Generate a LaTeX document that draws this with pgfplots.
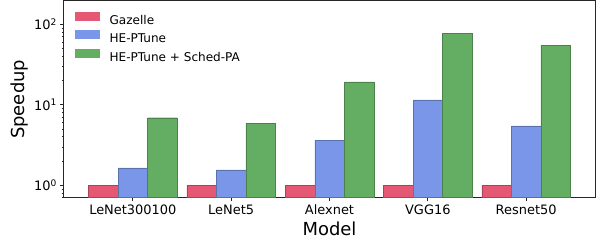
\documentclass[border=0pt]{standalone}
\usepackage{fontspec}
\setmainfont{DejaVu Sans}
\usepackage{pgfplots}
\pgfplotsset{compat=1.18}
\definecolor{cred}{RGB}{228,88,115}
\definecolor{cblue}{RGB}{122,150,232}
\definecolor{cgreen}{RGB}{99,174,98}
\pgfplotsset{mylegend/.style={legend image code/.code={\fill[#1] (0bp,0.3bp) rectangle (24bp,8.3bp);}}}
\begin{document}
\begin{tikzpicture}
\begin{axis}[
  scale only axis, width=531bp, height=196.7bp,
  ymode=log, log origin=infty,
  ymin=0.7, ymax=195,
  xmin=-0.7, xmax=4.7,
  xtick={0,1,2,3,4},
  xticklabels={LeNet300100,LeNet5,Alexnet,VGG16,Resnet50},
  ytick={1,10,100},
  yticklabels={10\textsuperscript{0},10\textsuperscript{1},10\textsuperscript{2}},
  minor ytick={0.7,0.8,0.9,2,3,4,5,6,7,8,9,20,30,40,50,60,70,80,90},
  tick align=outside, major tick length=3.5bp, minor tick length=2bp,
  xtick pos=bottom, ytick pos=left,
  axis line style={black!85, line width=1bp},
  every tick/.style={black!85, line width=0.8bp},
  every minor tick/.style={black!85, line width=0.6bp},
  tick label style={font=\fontsize{13}{15}\selectfont},
  xlabel={Model}, ylabel={Speedup},
  label style={font=\fontsize{18}{20}\selectfont},
  xlabel style={at={(axis description cs:0.5,-0.159)}, anchor=center},
  ylabel style={at={(axis description cs:-0.0829,0.5)}, anchor=center},
  legend cell align=left,
  legend style={at={(axis description cs:0,1)}, anchor=north west, xshift=11bp, yshift=-10.5bp,
    draw=none, fill=none, inner sep=0pt, row sep=4.8bp, column sep=10bp,
    font=\fontsize{12.1}{14}\selectfont, nodes={inner sep=0pt}},
]
\coordinate (sw) at (rel axis cs:0,0);
\coordinate (ne) at (rel axis cs:1,1);
\addplot[ybar, bar width=0.3, bar shift=-0.3, fill=cred, draw=cred!75!black, line width=0.4bp, mylegend=cred]
  coordinates {(0,1) (1,1) (2,1) (3,1) (4,1)};
\addlegendentry{Gazelle}
\addplot[ybar, bar width=0.3, bar shift=0, fill=cblue, draw=cblue!75!black, line width=0.4bp, mylegend=cblue]
  coordinates {(0,1.64) (1,1.55) (2,3.65) (3,11.5) (4,5.45)};
\addlegendentry{HE-PTune}
\addplot[ybar, bar width=0.3, bar shift=0.3, fill=cgreen, draw=cgreen!75!black, line width=0.4bp, mylegend=cgreen]
  coordinates {(0,6.9) (1,5.93) (2,19.2) (3,78) (4,55.3)};
\addlegendentry{HE-PTune + Sched-PA}
\end{axis}
\pgfresetboundingbox
\path[use as bounding box] ([shift={(-64bp,-44.3bp)}]sw) rectangle ([shift={(10bp,1bp)}]ne);
\end{tikzpicture}
\end{document}
